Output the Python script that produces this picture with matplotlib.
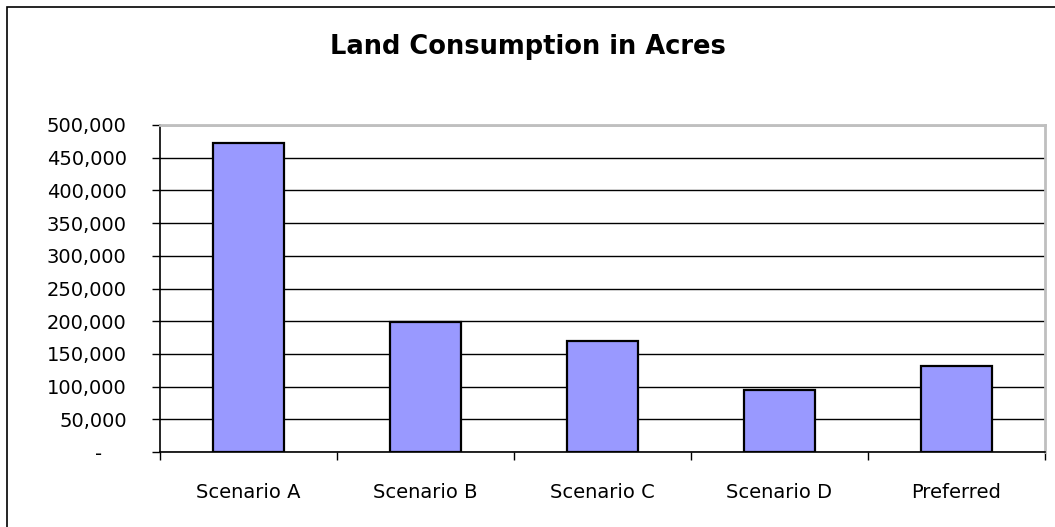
import matplotlib.pyplot as plt
from matplotlib.patches import Rectangle
from matplotlib.ticker import FuncFormatter

categories = ["Scenario A", "Scenario B", "Scenario C", "Scenario D", "Preferred"]
acres = [472000, 199000, 170000, 95000, 132000]
y_ticks = list(range(0, 500001, 50000))


def acre_label(v, pos):
    # Excel accounting style: zero shows as a dash
    if v == 0:
        return "-    "
    return f"{int(v):,}"


plt.rcParams['font.family'] = ['DejaVu Sans']

fig = plt.figure(figsize=(10.55, 5.27), dpi=100)
# outer chart frame (only left and top edges visible in the crop)
fig.patches.append(Rectangle((7 / 1055, -0.1), 1.2, 1 - 7 / 527 + 0.1,
                             transform=fig.transFigure, fill=False,
                             edgecolor="black", linewidth=1.2))

ax = fig.add_axes([160 / 1055, 75 / 527, 885 / 1055, 327 / 527])

x = range(len(categories))
ax.bar(x, acres, width=0.4, color="#9999ff", edgecolor="black", linewidth=1.6, zorder=3)

ax.set_xlim(-0.5, len(categories) - 0.5)
ax.set_ylim(0, 500000)
ax.set_yticks(y_ticks)
ax.yaxis.set_major_formatter(FuncFormatter(acre_label))
ax.grid(axis="y", color="black", linewidth=1.0, zorder=1)

ax.set_xticks(list(x))
ax.set_xticklabels(categories)
ax.set_xticks([i - 0.5 for i in range(len(categories) + 1)], minor=True)
ax.tick_params(axis="x", which="major", length=0, pad=22, labelsize=14)
ax.tick_params(axis="x", which="minor", length=6, width=1, direction="out")
ax.tick_params(axis="y", length=6, width=1, direction="out", pad=18, labelsize=14)

for side in ["left", "bottom"]:
    ax.spines[side].set_color("black")
    ax.spines[side].set_linewidth(1.2)
for side in ["top", "right"]:
    ax.spines[side].set_color("#bfbfbf")
    ax.spines[side].set_linewidth(2)

fig.text(0.5, 1 - 47 / 527, "Land Consumption in Acres", ha="center", va="center",
         fontsize=18.5, fontweight="bold")

fig.savefig("out.png", dpi=100)
